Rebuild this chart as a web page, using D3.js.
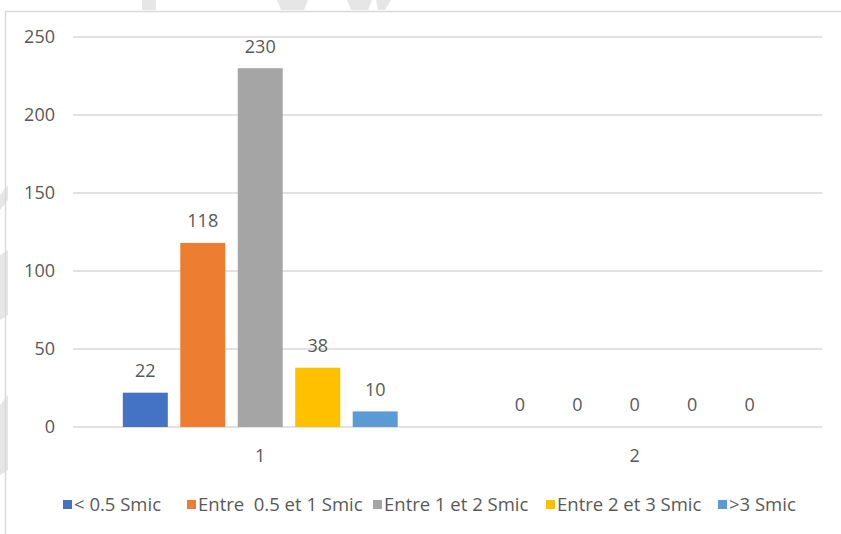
<!DOCTYPE html>
<html><head><meta charset="utf-8">
<script src="https://cdn.jsdelivr.net/npm/d3@7"></script>
<style>
body{margin:0;background:#fff;}
text{font-family:"Open Sans","Noto Sans",sans-serif;fill:#595959;}
</style></head>
<body><svg id="c" width="841" height="534"></svg>
<script>
const categories = ["1", "2"];
const seriesNames = ["< 0.5 Smic", "Entre  0.5 et 1 Smic", "Entre 1 et 2 Smic", "Entre 2 et 3 Smic", ">3 Smic"];
const seriesValues = [
  [22, 0],
  [118, 0],
  [230, 0],
  [38, 0],
  [10, 0]
];
const yTicks = [0, 50, 100, 150, 200, 250];
const colors = ["#4472C4", "#ED7D31", "#A5A5A5", "#FFC000", "#5B9BD5"];

const svg = d3.select("#c");
svg.append("rect").attr("x",0).attr("y",0).attr("width",841).attr("height",534).attr("fill","#fff");

// faint watermark fragments
const wm = svg.append("g").attr("fill","#e6e6e6");
wm.append("path").attr("d","M142,0 H156 V10 H142 Z");
wm.append("path").attr("d","M277,0 H308 L304,10 H281 Z");
wm.append("path").attr("d","M347,0 H372 L368,10 H351 Z M376,0 H391 L385,10 H378 Z");
wm.append("path").attr("d","M0,195 L8,185 L8,200 L0,210 Z");
wm.append("path").attr("d","M0,255 L8,250 L8,315 L0,320 Z");
wm.append("path").attr("d","M0,405 L8,395 L8,470 L0,475 Z");

// chart border
svg.append("path").attr("d","M5.5,534 V11.5 H841").attr("fill","none").attr("stroke","#d9d9d9").attr("stroke-width",1.5);

const L = 73, R = 822, T = 37, B = 427;
const y = d3.scaleLinear().domain([0, 250]).range([B, T]);
const x0 = d3.scaleBand().domain(categories).range([L, R]).paddingInner(0.266).paddingOuter(0.133);
const x1 = d3.scaleBand().domain(d3.range(seriesNames.length)).range([0, x0.bandwidth()]).paddingInner(0.217).paddingOuter(0);

// gridlines
svg.append("g").selectAll("line").data(yTicks).join("line")
  .attr("x1", L).attr("x2", R).attr("y1", d => y(d)).attr("y2", d => y(d))
  .attr("stroke", "#d9d9d9").attr("stroke-width", 1.5);

// y labels
svg.append("g").selectAll("text").data(yTicks).join("text")
  .attr("x", 55).attr("y", d => y(d)).attr("dy", "0.35em").attr("text-anchor", "end")
  .attr("font-size", 18).text(d => d);

// bars
seriesNames.forEach((s, i) => {
  const g = svg.append("g");
  g.selectAll("rect").data(categories).join("rect")
    .attr("x", c => x0(c) + x1(i))
    .attr("width", x1.bandwidth())
    .attr("y", (c, j) => y(seriesValues[i][j]))
    .attr("height", (c, j) => B - y(seriesValues[i][j]))
    .attr("fill", colors[i]);
  g.selectAll("text").data(categories).join("text")
    .attr("x", c => x0(c) + x1(i) + x1.bandwidth() / 2)
    .attr("y", (c, j) => y(seriesValues[i][j]) - 22)
    .attr("dy", "0.35em").attr("text-anchor", "middle").attr("font-size", 18)
    .text((c, j) => seriesValues[i][j]);
});

// x labels
svg.append("g").selectAll("text").data(categories).join("text")
  .attr("x", c => x0(c) + x0.bandwidth() / 2).attr("y", 456).attr("dy", "0.35em")
  .attr("text-anchor", "middle").attr("font-size", 18).text(c => c);

// legend
const legX = [63, 187, 373, 546, 718];
const leg = svg.append("g");
seriesNames.forEach((s, i) => {
  leg.append("rect").attr("x", legX[i]).attr("y", 500).attr("width", 9).attr("height", 9).attr("fill", colors[i]);
  leg.append("text").attr("x", legX[i] + 11).attr("y", 505).attr("dy", "0.35em")
    .attr("font-size", 18.5).attr("xml:space", "preserve").style("white-space", "pre").text(s);
});
</script></body></html>
